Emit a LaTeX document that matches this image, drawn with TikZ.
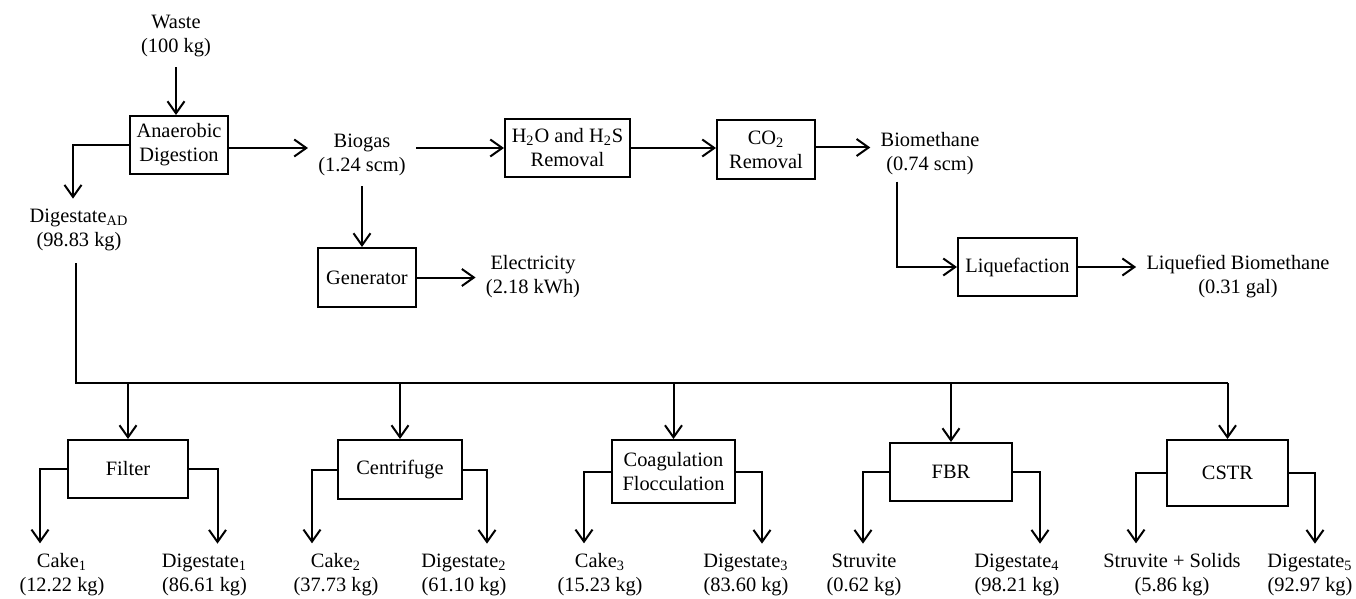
\documentclass[tikz,border=0pt]{standalone}
\usepackage{fontspec}
\setmainfont{Liberation Serif}
\usetikzlibrary{arrows.meta}
\newcommand{\sub}[1]{\textsubscript{#1}}

\tikzset{
  unit/.style={draw, line width=1pt, align=center, inner sep=0pt},
  tag/.style={align=center, inner sep=5pt},
  flow/.style={line width=1pt, -{Straight Barb[length=6pt,width=8.5pt,line width=1pt]}},
  pipe/.style={line width=1pt},
}

\begin{document}
\begin{tikzpicture}[x=0.5pt, y=-0.5pt, font=\fontsize{10.2}{12}\selectfont]
  \useasboundingbox (0,0) rectangle (1356,599);

  %% upper line: digestion and biogas
  \node[tag] (waste) at (176,36) {Waste\\(100 kg)};
  \node[unit, minimum width=49pt, minimum height=29pt] (ad) at (179,145) {Anaerobic\\Digestion};
  \node[tag] (digad) at (79,230) {Digestate\sub{AD}\\(98.83 kg)};
  \node[tag] (biogas) at (362,155) {Biogas\\(1.24 scm)};
  \node[unit, minimum width=62.5pt, minimum height=29pt] (h2o) at (567.5,148) {H\sub{2}O and H\sub{2}S\\Removal};
  \node[unit, minimum width=49pt, minimum height=29.5pt] (co2) at (766,149.5) {CO\sub{2}\\Removal};
  \node[tag] (biometh) at (930,154) {Biomethane\\(0.74 scm)};
  \node[unit, minimum width=49pt, minimum height=29.5pt] (gen) at (367,277.5) {Generator};
  \node[tag] (elec) at (533,277) {Electricity\\(2.18 kWh)};
  \node[unit, minimum width=59.5pt, minimum height=29pt] (liq) at (1017.5,267) {Liquefaction};
  \node[tag] (liqbm) at (1238,277) {Liquefied Biomethane\\(0.31 gal)};

  \draw[flow] (waste.south) -- (waste.south |- ad.north);
  \draw[flow] (ad.west) -| ([xshift=-3pt]digad.north);
  \draw[flow] ([yshift=-1.5pt]ad.east) -- ([yshift=-1.5pt]ad.east -| biogas.west);
  \draw[flow] (biogas.east |- h2o.west) -- (h2o.west);
  \draw[flow] (h2o.east) -- (h2o.east -| co2.west);
  \draw[flow] ([yshift=1pt]co2.east) -- ([yshift=1pt]co2.east -| biometh.west);
  \draw[flow] (biogas.south) -- (biogas.south |- gen.north);
  \draw[flow] (gen.east) -- (gen.east -| elec.west);
  \draw[flow] ([xshift=-16.5pt, yshift=2pt]biometh.south) |- (liq.west);
  \draw[flow] (liq.east) -- (liq.east -| liqbm.west);

  %% lower line: digestate treatment
  \coordinate (bus) at (0,383);
  \node[unit, minimum width=60pt, minimum height=29pt] (filter) at (128,469) {Filter};
  \node[unit, minimum width=62pt, minimum height=29.5pt] (centr) at (400,469.5) {Centrifuge};
  \node[unit, minimum width=61.5pt, minimum height=31.5pt] (coag) at (673.5,471.5) {Coagulation\\Flocculation};
  \node[unit, minimum width=61pt, minimum height=29pt] (fbr) at (951,472) {FBR};
  \node[unit, minimum width=60.5pt, minimum height=33pt] (cstr) at (1227.5,473) {CSTR};

  \node[tag] (cake1) at (62,575) {Cake\sub{1}\\(12.22 kg)};
  \node[tag] (dig1) at (204.5,575) {Digestate\sub{1}\\(86.61 kg)};
  \node[tag] (cake2) at (336,575) {Cake\sub{2}\\(37.73 kg)};
  \node[tag] (dig2) at (464,575) {Digestate\sub{2}\\(61.10 kg)};
  \node[tag] (cake3) at (600,575) {Cake\sub{3}\\(15.23 kg)};
  \node[tag] (dig3) at (746,575) {Digestate\sub{3}\\(83.60 kg)};
  \node[tag] (stru) at (864,575) {Struvite\\(0.62 kg)};
  \node[tag] (dig4) at (1017,575) {Digestate\sub{4}\\(98.21 kg)};
  \node[tag] (strs) at (1172,575) {Struvite + Solids\\(5.86 kg)};
  \node[tag] (dig5) at (1310,575) {Digestate\sub{5}\\(92.97 kg)};

  \draw[pipe] ([xshift=-1.5pt, yshift=-1pt]digad.south) |- (bus -| cstr.north);
  \foreach \u in {filter, centr, coag, fbr, cstr}
    \draw[flow] (bus -| \u.north) -- (\u.north);

  \draw[flow] (filter.west) -| ([xshift=-11pt]cake1.north);
  \draw[flow] (filter.east) -| ([xshift=6.5pt]dig1.north);
  \draw[flow] (centr.west) -| ([xshift=-12pt]cake2.north);
  \draw[flow] (centr.east) -| ([xshift=11.5pt]dig2.north);
  \draw[flow] (coag.west) -| ([xshift=-8pt]cake3.north);
  \draw[flow] (coag.east) -| ([xshift=8pt]dig3.north);
  \draw[flow] (fbr.west) -| ([xshift=-0.5pt]stru.north);
  \draw[flow] (fbr.east) -| ([xshift=11.5pt]dig4.north);
  \draw[flow] (cstr.west) -| ([xshift=-18pt]strs.north);
  \draw[flow] (cstr.east) -| ([xshift=2.5pt]dig5.north);

\end{tikzpicture}
\end{document}
